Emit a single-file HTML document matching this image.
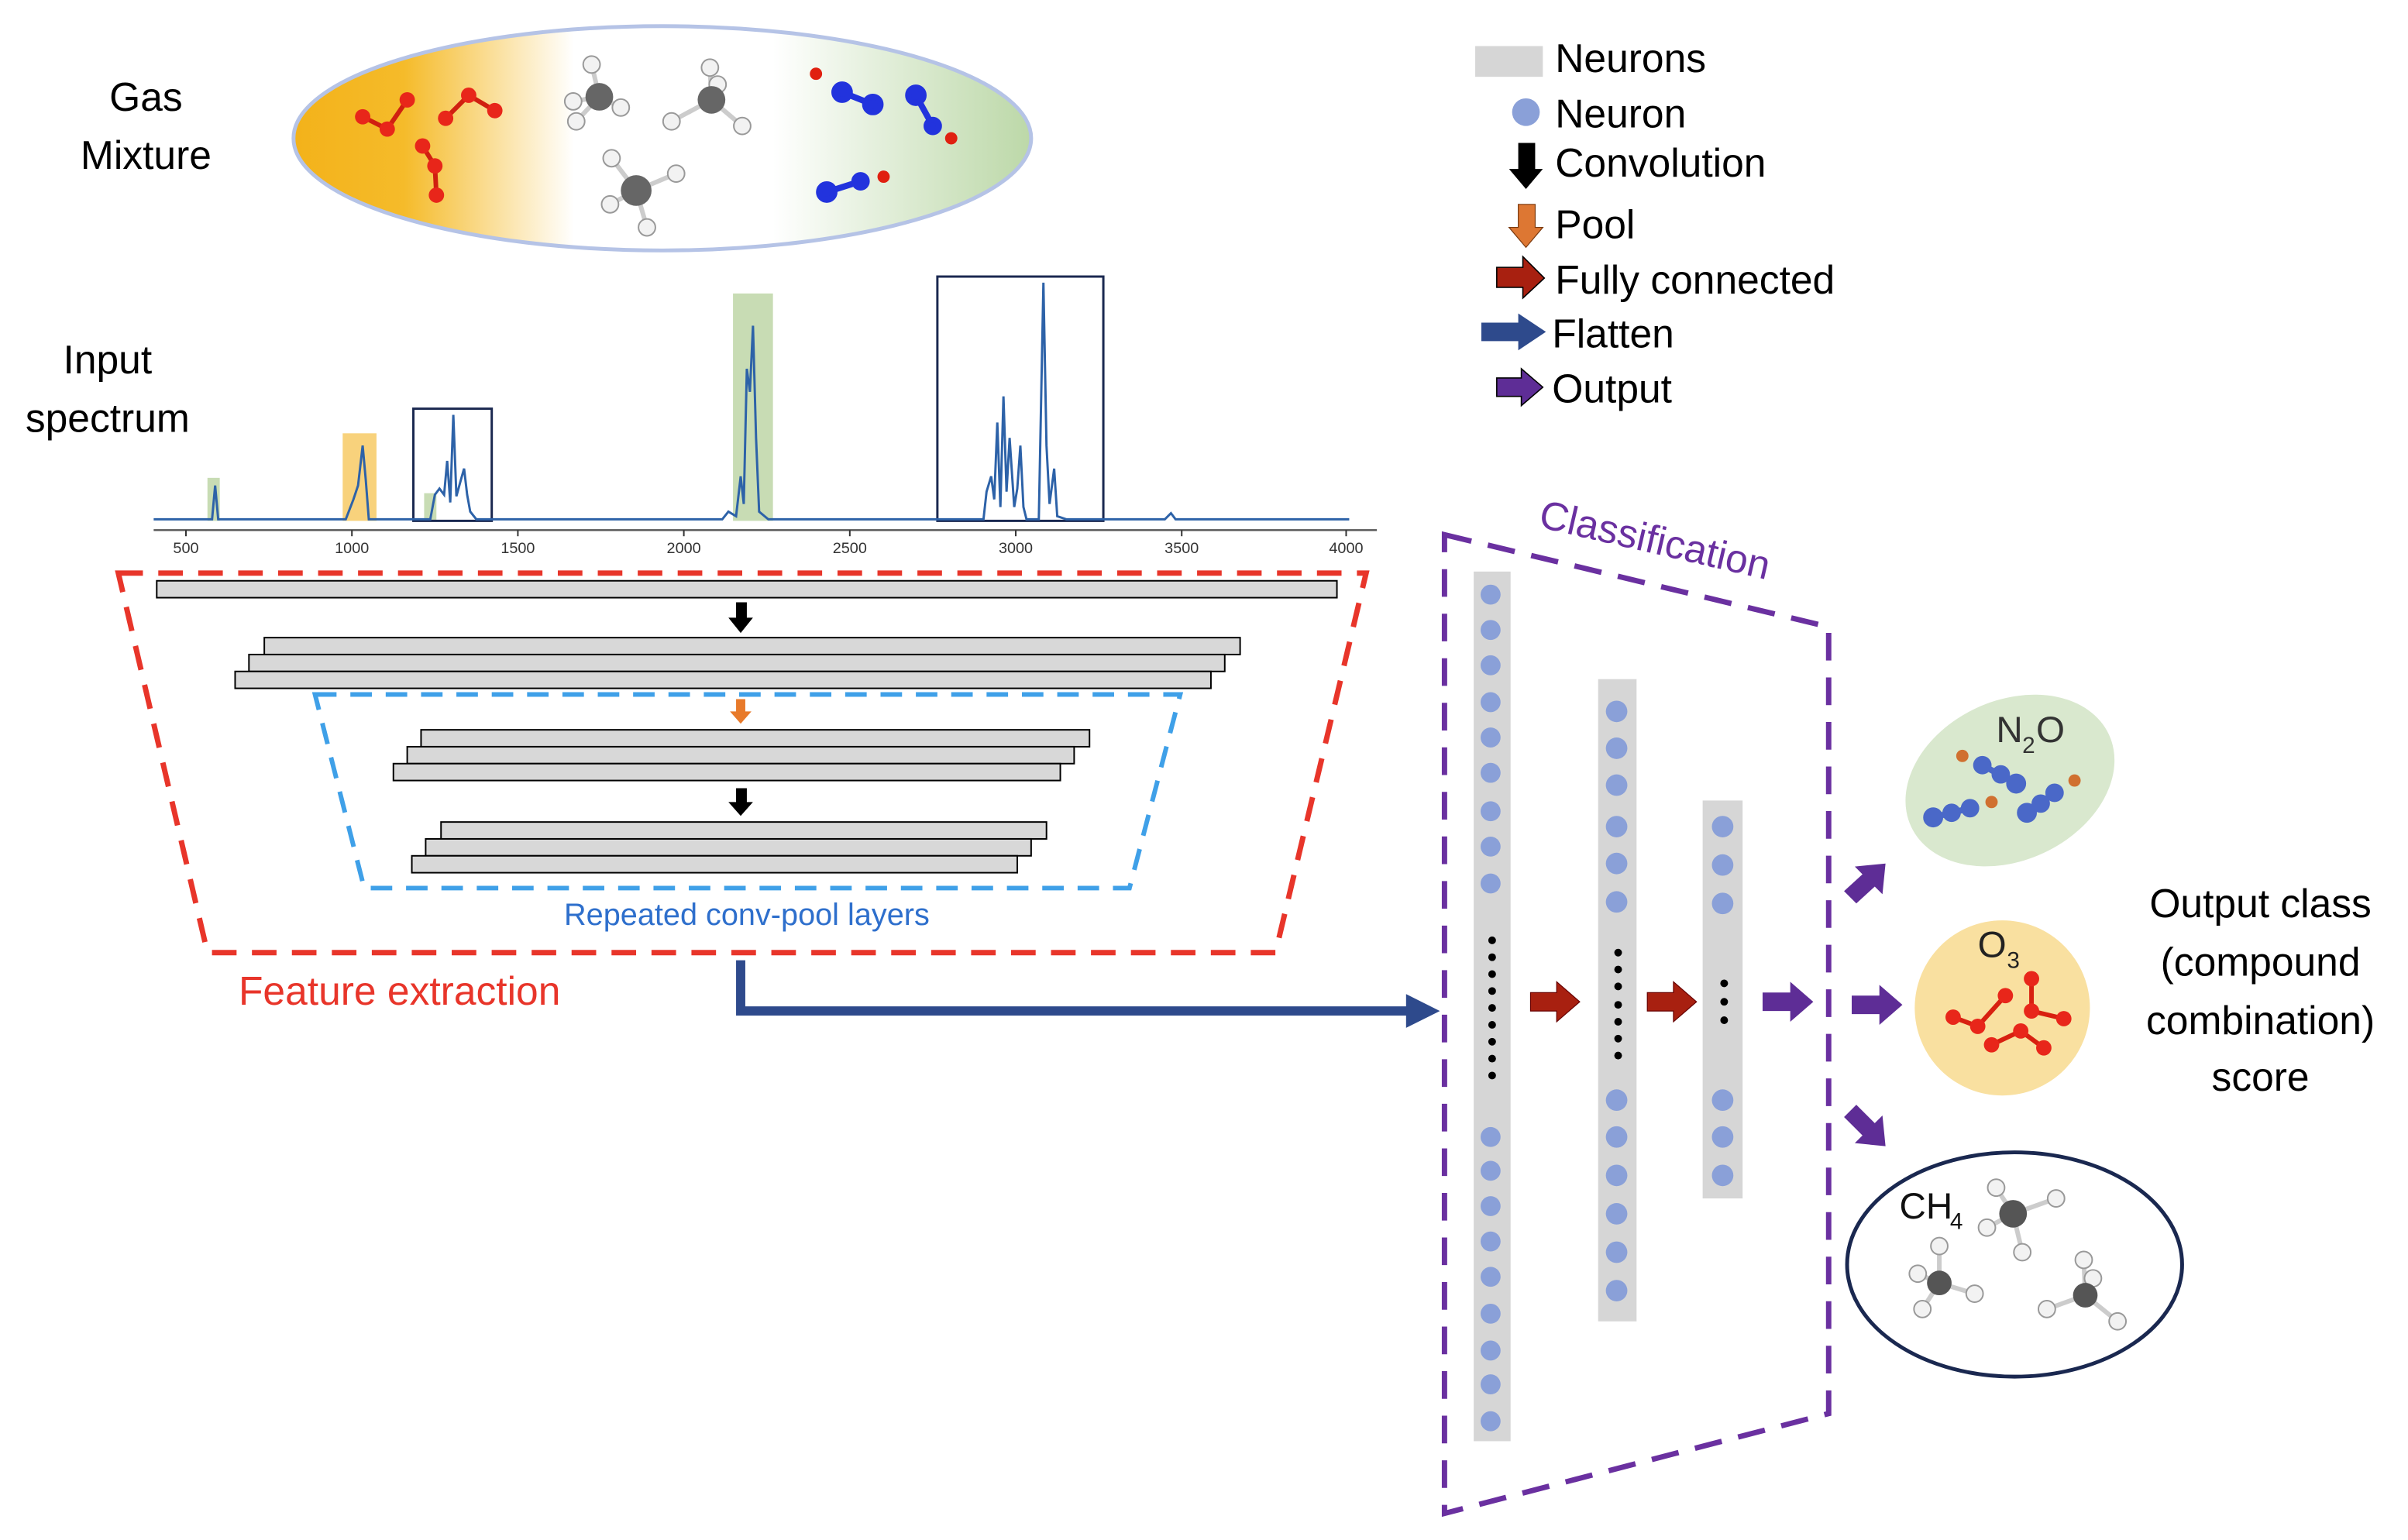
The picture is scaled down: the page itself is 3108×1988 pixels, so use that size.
<!DOCTYPE html>
<html><head><meta charset="utf-8"><style>html,body{margin:0;padding:0;background:#fff}svg{display:block}</style></head>
<body>
<svg width="3108" height="1988" viewBox="0 0 1567 1002.3" preserveAspectRatio="none" xmlns="http://www.w3.org/2000/svg" font-family="Liberation Sans, sans-serif">
<defs>
<linearGradient id="gm" x1="0" x2="1" y1="0" y2="0">
<stop offset="0" stop-color="#f3b21a"/><stop offset="0.15" stop-color="#f5bb2a"/><stop offset="0.38" stop-color="#fff"/><stop offset="0.65" stop-color="#fff"/><stop offset="1" stop-color="#bcd8a8"/>
</linearGradient>
</defs>
<text x="95" y="72" font-size="26" text-anchor="middle">Gas</text>
<text x="95" y="110" font-size="26" text-anchor="middle">Mixture</text>
<ellipse cx="431" cy="90" rx="240" ry="73" fill="url(#gm)" stroke="#b5c3e6" stroke-width="2.5"/>
<g stroke="#d02010" stroke-width="3" fill="#e8261a">
<line x1="236" y1="76" x2="252" y2="84"/><line x1="252" y1="84" x2="265" y2="65"/>
<line x1="290" y1="77" x2="305" y2="62"/><line x1="305" y1="62" x2="322" y2="72"/>
<line x1="275" y1="95" x2="283" y2="108"/><line x1="283" y1="108" x2="284" y2="127"/>
<circle cx="236" cy="76" r="5" stroke="none"/><circle cx="252" cy="84" r="5" stroke="none"/><circle cx="265" cy="65" r="5" stroke="none"/>
<circle cx="290" cy="77" r="5" stroke="none"/><circle cx="305" cy="62" r="5" stroke="none"/><circle cx="322" cy="72" r="5" stroke="none"/>
<circle cx="275" cy="95" r="5" stroke="none"/><circle cx="283" cy="108" r="5" stroke="none"/><circle cx="284" cy="127" r="5" stroke="none"/>
</g>
<g stroke="#ccc" stroke-width="3">
<line x1="385" y1="42" x2="390" y2="63"/><line x1="373" y1="66" x2="390" y2="63"/><line x1="404" y1="70" x2="390" y2="63"/><line x1="375" y1="79" x2="390" y2="63"/>
<line x1="462" y1="44" x2="463" y2="65"/><line x1="437" y1="79" x2="463" y2="65"/><line x1="483" y1="82" x2="463" y2="65"/><line x1="467" y1="55" x2="463" y2="65"/>
<line x1="398" y1="103" x2="414" y2="124"/><line x1="440" y1="113" x2="414" y2="124"/><line x1="397" y1="133" x2="414" y2="124"/><line x1="421" y1="148" x2="414" y2="124"/>
</g>
<g fill="#f2f2f2" stroke="#999" stroke-width="1">
<circle cx="385" cy="42" r="5.5"/><circle cx="373" cy="66" r="5.5"/><circle cx="404" cy="70" r="5.5"/><circle cx="375" cy="79" r="5.5"/><circle cx="390" cy="63" r="9" fill="#666" stroke="none"/>
<circle cx="462" cy="44" r="5.5"/><circle cx="437" cy="79" r="5.5"/><circle cx="483" cy="82" r="5.5"/><circle cx="467" cy="55" r="5.5"/><circle cx="463" cy="65" r="9" fill="#666" stroke="none"/>
<circle cx="398" cy="103" r="5.5"/><circle cx="440" cy="113" r="5.5"/><circle cx="397" cy="133" r="5.5"/><circle cx="421" cy="148" r="5.5"/><circle cx="414" cy="124" r="10" fill="#666" stroke="none"/>
</g>
<g stroke="#2233dd" stroke-width="4" fill="#2233dd">
<line x1="548" y1="60" x2="568" y2="68"/><circle cx="548" cy="60" r="5"/><circle cx="568" cy="68" r="5"/><circle cx="531" cy="48" r="4" fill="#e02010" stroke="none"/>
<line x1="596" y1="62" x2="607" y2="82"/><circle cx="596" cy="62" r="5"/><circle cx="607" cy="82" r="4"/><circle cx="619" cy="90" r="4" fill="#e02010" stroke="none"/>
<line x1="538" y1="125" x2="560" y2="118"/><circle cx="538" cy="125" r="5"/><circle cx="560" cy="118" r="4"/><circle cx="575" cy="115" r="4" fill="#e02010" stroke="none"/>
</g>
<rect x="960" y="30" width="44" height="20" fill="#d6d6d6"/>
<text x="1012" y="47" font-size="26">Neurons</text>
<circle cx="993" cy="73" r="9" fill="#8aa0d8"/>
<text x="1012" y="83" font-size="26">Neuron</text>
<polygon points="988,93 999,93 999,110 1004,110 993,123 982,110 988,110" fill="#000"/>
<text x="1012" y="115" font-size="26">Convolution</text>
<polygon points="988,133 999,133 999,148 1004,148 993,161 982,148 988,148" fill="#dd7733" stroke="#7a3a10" stroke-width="0.6"/>
<text x="1012" y="155" font-size="26">Pool</text>
<polygon points="974,174 991,174 991,167 1005,181 991,194 991,187 974,187" fill="#a82010" stroke="#000" stroke-width="0.8"/>
<text x="1012" y="191" font-size="26">Fully connected</text>
<polygon points="964,210 988,210 988,204 1006,216 988,228 988,222 964,222" fill="#2e4a8c"/>
<text x="1010" y="226" font-size="26">Flatten</text>
<polygon points="974,246 990,246 990,240 1004,252 990,264 990,258 974,258" fill="#5e2d96" stroke="#000" stroke-width="0.8"/>
<text x="1010" y="262" font-size="26">Output</text>
<text x="70" y="243" font-size="26" text-anchor="middle">Input</text>
<text x="70" y="281" font-size="26" text-anchor="middle">spectrum</text>
<rect x="135" y="311" width="8" height="28" fill="#c8dcb4"/>
<rect x="223" y="282" width="22" height="57" fill="#f8d27c"/>
<rect x="276" y="321" width="8" height="18" fill="#c8dcb4"/>
<rect x="477" y="191" width="26" height="148" fill="#c8dcb4"/>
<rect x="269" y="266" width="51" height="73" fill="none" stroke="#1a2850" stroke-width="1.5"/>
<rect x="610" y="180" width="108" height="159" fill="none" stroke="#1a2850" stroke-width="1.5"/>
<path d="M100,338 L138,338 L140,316 L142,338 L225,338 L230,325 L233,316 L236,290 L238,312 L240,338 L280,338 L283,322 L286,318 L289,322 L291,300 L293,327 L295,270 L297,323 L300,312 L302,305 L304,322 L306,333 L310,338 L470,338 L474,333 L479,336 L482,310 L484,328 L486,240 L488,255 L490,212 L492,285 L494,333 L500,338 L640,338 L642,320 L645,310 L647,325 L649,275 L651,330 L653,258 L655,320 L657,285 L660,330 L662,318 L664,290 L666,330 L668,338 L676,338 L679,184 L681,290 L683,328 L686,305 L688,336 L694,338 L758,338 L762,334 L765,338 L878,338" fill="none" stroke="#2d62a8" stroke-width="1.5"/>
<line x1="100" y1="345" x2="896" y2="345" stroke="#555" stroke-width="1.2"/>
<g font-size="10" fill="#333" text-anchor="middle">
<text x="121" y="360">500</text><text x="229" y="360">1000</text><text x="337" y="360">1500</text><text x="445" y="360">2000</text><text x="553" y="360">2500</text><text x="661" y="360">3000</text><text x="769" y="360">3500</text><text x="876" y="360">4000</text>
</g>
<g stroke="#333" stroke-width="1"><line x1="121" y1="345" x2="121" y2="349"/><line x1="229" y1="345" x2="229" y2="349"/><line x1="337" y1="345" x2="337" y2="349"/><line x1="445" y1="345" x2="445" y2="349"/><line x1="553" y1="345" x2="553" y2="349"/><line x1="661" y1="345" x2="661" y2="349"/><line x1="769" y1="345" x2="769" y2="349"/><line x1="876" y1="345" x2="876" y2="349"/></g>
<polygon points="77,373 889,373 830,620 135,620" fill="none" stroke="#e8352a" stroke-width="3.5" stroke-dasharray="16,10"/>
<g fill="#d8d8d8" stroke="#000" stroke-width="1">
<rect x="102" y="378" width="768" height="11"/>
<rect x="172" y="415" width="635" height="11"/>
<rect x="162" y="426" width="635" height="11"/>
<rect x="153" y="437" width="635" height="11"/>
</g>
<polygon points="205,452 768,452 735,578 237,578" fill="none" stroke="#3fa0e8" stroke-width="3" stroke-dasharray="14,9"/>
<g fill="#d8d8d8" stroke="#000" stroke-width="1">
<rect x="274" y="475" width="435" height="11"/>
<rect x="265" y="486" width="434" height="11"/>
<rect x="256" y="497" width="434" height="11"/>
<rect x="287" y="535" width="394" height="11"/>
<rect x="277" y="546" width="394" height="11"/>
<rect x="268" y="557" width="394" height="11"/>
</g>
<polygon points="479,392 486,392 486,402 490,402 482,412 474,402 479,402" fill="#000"/>
<polygon points="479,455 485,455 485,463 489,463 482,471 475,463 479,463" fill="#e87a2a"/>
<polygon points="479,513 486,513 486,522 490,522 482,531 474,522 479,522" fill="#000"/>
<text x="486" y="602" font-size="20" fill="#2e6fcc" text-anchor="middle">Repeated conv-pool layers</text>
<text x="260" y="654" font-size="26" fill="#e8352a" text-anchor="middle">Feature extraction</text>
<polyline points="482,625 482,658 918,658" fill="none" stroke="#2e4a8c" stroke-width="6"/>
<polygon points="915,647 937,658 915,669" fill="#2e4a8c"/>
<polygon points="940,348 1190,408 1190,920 940,985" fill="none" stroke="#6a30a0" stroke-width="3.5" stroke-dasharray="18,11"/>
<text x="1075" y="360" font-size="26" fill="#6a30a0" text-anchor="middle" transform="rotate(13 1075 360)">Classification</text>
<rect x="959" y="372" width="24" height="566" fill="#d6d6d6"/>
<rect x="1040" y="442" width="25" height="418" fill="#d6d6d6"/>
<rect x="1108" y="521" width="26" height="259" fill="#d6d6d6"/>
<g fill="#8aa0d8">
<circle cx="970" cy="387" r="6.5"/><circle cx="970" cy="410" r="6.5"/><circle cx="970" cy="433" r="6.5"/><circle cx="970" cy="457" r="6.5"/><circle cx="970" cy="480" r="6.5"/><circle cx="970" cy="503" r="6.5"/><circle cx="970" cy="528" r="6.5"/><circle cx="970" cy="551" r="6.5"/><circle cx="970" cy="575" r="6.5"/>
<circle cx="970" cy="740" r="6.5"/><circle cx="970" cy="762" r="6.5"/><circle cx="970" cy="785" r="6.5"/><circle cx="970" cy="808" r="6.5"/><circle cx="970" cy="831" r="6.5"/><circle cx="970" cy="855" r="6.5"/><circle cx="970" cy="879" r="6.5"/><circle cx="970" cy="901" r="6.5"/><circle cx="970" cy="925" r="6.5"/>
<circle cx="1052" cy="463" r="7"/><circle cx="1052" cy="487" r="7"/><circle cx="1052" cy="511" r="7"/><circle cx="1052" cy="538" r="7"/><circle cx="1052" cy="562" r="7"/><circle cx="1052" cy="587" r="7"/>
<circle cx="1052" cy="716" r="7"/><circle cx="1052" cy="740" r="7"/><circle cx="1052" cy="765" r="7"/><circle cx="1052" cy="790" r="7"/><circle cx="1052" cy="815" r="7"/><circle cx="1052" cy="840" r="7"/>
<circle cx="1121" cy="538" r="7"/><circle cx="1121" cy="563" r="7"/><circle cx="1121" cy="588" r="7"/>
<circle cx="1121" cy="716" r="7"/><circle cx="1121" cy="740" r="7"/><circle cx="1121" cy="765" r="7"/>
</g>
<g fill="#000">
<circle cx="971" cy="612" r="2.5"/><circle cx="971" cy="623" r="2.5"/><circle cx="971" cy="634" r="2.5"/><circle cx="971" cy="645" r="2.5"/><circle cx="971" cy="656" r="2.5"/><circle cx="971" cy="667" r="2.5"/><circle cx="971" cy="678" r="2.5"/><circle cx="971" cy="689" r="2.5"/><circle cx="971" cy="700" r="2.5"/>
<circle cx="1053" cy="620" r="2.5"/><circle cx="1053" cy="631" r="2.5"/><circle cx="1053" cy="642" r="2.5"/><circle cx="1053" cy="654" r="2.5"/><circle cx="1053" cy="665" r="2.5"/><circle cx="1053" cy="676" r="2.5"/><circle cx="1053" cy="687" r="2.5"/>
<circle cx="1122" cy="640" r="2.5"/><circle cx="1122" cy="652" r="2.5"/><circle cx="1122" cy="664" r="2.5"/>
</g>
<polygon points="996,646 1013,646 1013,639 1028,652 1013,665 1013,658 996,658" fill="#a82010" stroke="#600" stroke-width="0.6"/>
<polygon points="1072,646 1089,646 1089,639 1104,652 1089,665 1089,658 1072,658" fill="#a82010" stroke="#600" stroke-width="0.6"/>
<polygon points="1147,646 1165,646 1165,639 1180,652 1165,665 1165,658 1147,658" fill="#5e2d96"/>
<polygon points="1205,648 1223,648 1223,641 1238,654 1223,667 1223,660 1205,660" fill="#5e2d96"/>
<polygon points="1200,580 1212,569 1207,564 1227,562 1225,582 1220,577 1208,588" fill="#5e2d96"/>
<polygon points="1200,727 1208,719 1220,731 1225,726 1227,746 1207,744 1212,739" fill="#5e2d96"/>
<ellipse cx="1308" cy="508" rx="71" ry="52" transform="rotate(-25 1308 508)" fill="#d9e8ce"/>
<text x="1299" y="483" font-size="24" fill="#333">N</text><text x="1316" y="490" font-size="15" fill="#333">2</text><text x="1325" y="483" font-size="24" fill="#333">O</text>
<g stroke="#4a68c8" stroke-width="4" fill="#4a68c8">
<line x1="1290" y1="498" x2="1312" y2="510"/><circle cx="1290" cy="498" r="4"/><circle cx="1302" cy="504" r="4"/><circle cx="1312" cy="510" r="4.5"/><circle cx="1277" cy="492" r="4" fill="#d07030" stroke="none"/>
<line x1="1258" y1="532" x2="1282" y2="526"/><circle cx="1258" cy="532" r="4.5"/><circle cx="1270" cy="529" r="4"/><circle cx="1282" cy="526" r="4"/><circle cx="1296" cy="522" r="4" fill="#d07030" stroke="none"/>
<line x1="1319" y1="529" x2="1337" y2="516"/><circle cx="1319" cy="529" r="4.5"/><circle cx="1328" cy="523" r="4"/><circle cx="1337" cy="516" r="4"/><circle cx="1350" cy="508" r="4" fill="#d07030" stroke="none"/>
</g>
<circle cx="1303" cy="656" r="57" fill="#f9e0a0"/>
<text x="1287" y="623" font-size="24" fill="#222">O</text><text x="1306" y="630" font-size="15" fill="#222">3</text>
<g stroke="#d82010" stroke-width="3" fill="#e8261a">
<line x1="1271" y1="662" x2="1287" y2="668"/><line x1="1287" y1="668" x2="1305" y2="648"/>
<line x1="1322" y1="637" x2="1322" y2="658"/><line x1="1322" y1="658" x2="1343" y2="663"/>
<line x1="1296" y1="680" x2="1315" y2="671"/><line x1="1315" y1="671" x2="1330" y2="682"/>
<circle cx="1271" cy="662" r="5" stroke="none"/><circle cx="1287" cy="668" r="5" stroke="none"/><circle cx="1305" cy="648" r="5" stroke="none"/>
<circle cx="1322" cy="637" r="5" stroke="none"/><circle cx="1322" cy="658" r="5" stroke="none"/><circle cx="1343" cy="663" r="5" stroke="none"/>
<circle cx="1296" cy="680" r="5" stroke="none"/><circle cx="1315" cy="671" r="5" stroke="none"/><circle cx="1330" cy="682" r="5" stroke="none"/>
</g>
<ellipse cx="1311" cy="823" rx="109" ry="73" fill="none" stroke="#1a2850" stroke-width="2.5"/>
<text x="1236" y="793" font-size="24" fill="#111">CH</text><text x="1269" y="800" font-size="15" fill="#111">4</text>
<g stroke="#ccc" stroke-width="3">
<line x1="1299" y1="773" x2="1310" y2="790"/><line x1="1338" y1="780" x2="1310" y2="790"/><line x1="1293" y1="799" x2="1310" y2="790"/><line x1="1316" y1="815" x2="1310" y2="790"/>
<line x1="1262" y1="811" x2="1262" y2="835"/><line x1="1248" y1="829" x2="1262" y2="835"/><line x1="1285" y1="842" x2="1262" y2="835"/><line x1="1251" y1="852" x2="1262" y2="835"/>
<line x1="1356" y1="820" x2="1357" y2="843"/><line x1="1362" y1="832" x2="1357" y2="843"/><line x1="1332" y1="852" x2="1357" y2="843"/><line x1="1378" y1="860" x2="1357" y2="843"/>
</g>
<g fill="#f2f2f2" stroke="#999" stroke-width="1">
<circle cx="1299" cy="773" r="5.5"/><circle cx="1338" cy="780" r="5.5"/><circle cx="1293" cy="799" r="5.5"/><circle cx="1316" cy="815" r="5.5"/><circle cx="1310" cy="790" r="9" fill="#555" stroke="none"/>
<circle cx="1262" cy="811" r="5.5"/><circle cx="1248" cy="829" r="5.5"/><circle cx="1285" cy="842" r="5.5"/><circle cx="1251" cy="852" r="5.5"/><circle cx="1262" cy="835" r="8" fill="#555" stroke="none"/>
<circle cx="1356" cy="820" r="5.5"/><circle cx="1362" cy="832" r="5.5"/><circle cx="1332" cy="852" r="5.5"/><circle cx="1378" cy="860" r="5.5"/><circle cx="1357" cy="843" r="8" fill="#555" stroke="none"/>
</g>
<g font-size="26" text-anchor="middle">
<text x="1471" y="597">Output class</text>
<text x="1471" y="635">(compound</text>
<text x="1471" y="673">combination)</text>
<text x="1471" y="710">score</text>
</g>
</svg>
</body></html>
